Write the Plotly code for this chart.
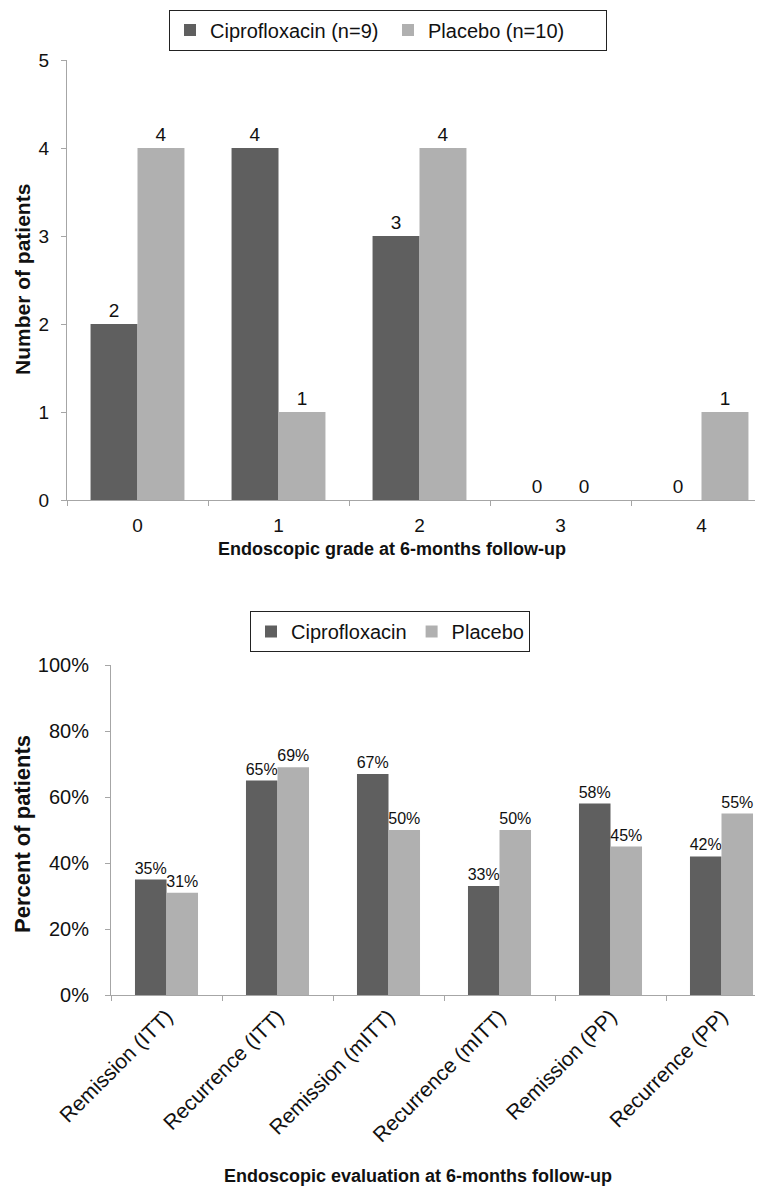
import plotly.graph_objects as go

W, H = 763, 1193
OFF = 8  # page body margin offset

# Top chart data
grades = ["0", "1", "2", "3", "4"]
cipro_counts = [2, 4, 3, 0, 0]
placebo_counts = [4, 1, 4, 0, 1]

# Bottom chart data
outcomes = ["Remission (ITT)", "Recurrence (ITT)", "Remission (mITT)",
            "Recurrence (mITT)", "Remission (PP)", "Recurrence (PP)"]
cipro_pct = [35, 65, 67, 33, 58, 42]
placebo_pct = [31, 69, 50, 50, 45, 55]

DARK = "#5f5f5f"
LIGHT = "#b0b0b0"
FONT = "Liberation Sans, Arial, sans-serif"
AXIS = "#a6a6a6"

ML, MR, MT, MB = 67 - OFF, 0, 60 - OFF, H - (995 - OFF)
PW = W - ML - MR
PH = H - MT - MB

def px_x(p):
    return (p - OFF - ML) / PW

def px_y(p):
    return (H - MB - (p - OFF)) / PH

fig = go.Figure()

wt = 0.333
fig.add_trace(go.Bar(x=grades, y=cipro_counts, name="Ciprofloxacin (n=9)",
                     marker=dict(color=DARK, line=dict(width=0)),
                     width=wt, offset=-wt, text=[str(v) for v in cipro_counts],
                     texttemplate="%{text}", textposition="outside", constraintext="none",
                     textfont=dict(size=19, color="#111"), cliponaxis=False,
                     xaxis="x", yaxis="y", legend="legend"))
fig.add_trace(go.Bar(x=grades, y=placebo_counts, name="Placebo (n=10)",
                     marker=dict(color=LIGHT, line=dict(width=0)),
                     width=wt, offset=0, text=[str(v) for v in placebo_counts],
                     texttemplate="%{text}", textposition="outside", constraintext="none",
                     textfont=dict(size=19, color="#111"), cliponaxis=False,
                     xaxis="x", yaxis="y", legend="legend"))

wb = 0.284
fig.add_trace(go.Bar(x=outcomes, y=cipro_pct, name="Ciprofloxacin",
                     marker=dict(color=DARK, line=dict(width=0)),
                     width=wb, offset=-wb, text=[f"{v}%" for v in cipro_pct],
                     texttemplate="%{text}", textposition="outside", constraintext="none",
                     textfont=dict(size=16, color="#111"), cliponaxis=False,
                     xaxis="x2", yaxis="y2", legend="legend2"))
fig.add_trace(go.Bar(x=outcomes, y=placebo_pct, name="Placebo",
                     marker=dict(color=LIGHT, line=dict(width=0)),
                     width=wb, offset=0, text=[f"{v}%" for v in placebo_pct],
                     texttemplate="%{text}", textposition="outside", constraintext="none",
                     textfont=dict(size=16, color="#111"), cliponaxis=False,
                     xaxis="x2", yaxis="y2", legend="legend2"))

def ax(size, **kw):
    d = dict(showgrid=False, zeroline=False, showline=True, linecolor=AXIS,
             linewidth=1, ticks="outside", ticklen=5, tickcolor=AXIS,
             automargin=False, tickfont=dict(family=FONT, size=size, color="#111"))
    d.update(kw)
    return d

# plot right edge on screen = W + OFF
top_cat_px = 141.0
bot_cat_px = 111.0
top_hi = -0.5 + (W + OFF - 67) / top_cat_px
bot_hi = -0.5 + (W + OFF - 111) / bot_cat_px

fig.update_layout(
    width=W, height=H,
    margin=dict(l=ML, r=MR, t=MT, b=MB, autoexpand=False),
    paper_bgcolor="white", plot_bgcolor="white",
    font=dict(family=FONT, color="#111"),
    xaxis=ax(19, domain=[0, 1], anchor="y", type="category",
             range=[-0.5, top_hi], tickson="boundaries", ticklabelstandoff=8),
    yaxis=ax(19, domain=[px_y(500), px_y(60)], anchor="x", range=[0, 5], dtick=1,
             ticklabelstandoff=8),
    xaxis2=ax(21, domain=[px_x(111), 1], anchor="y2", type="category",
              range=[-0.5, bot_hi], tickson="boundaries", tickangle=-45),
    yaxis2=ax(20, domain=[px_y(995), px_y(665)], anchor="x2", range=[0, 100], dtick=20,
              ticksuffix="%", ticklabelstandoff=12),
    legend=dict(x=px_x(388), y=px_y(9.5), xanchor="center", yanchor="top",
                orientation="h", bordercolor="#222", borderwidth=1,
                font=dict(family=FONT, size=20, color="#111"), itemwidth=30,
                entrywidth=173, entrywidthmode="pixels"),
    legend2=dict(x=px_x(390), y=px_y(611), xanchor="center", yanchor="top",
                 orientation="h", bordercolor="#222", borderwidth=1,
                 font=dict(family=FONT, size=20, color="#111"), itemwidth=30),
    showlegend=True,
    annotations=[
        dict(text="<b>Number of patients</b>", x=px_x(22), y=px_y(280),
             xref="paper", yref="paper", textangle=-90, showarrow=False,
             xanchor="center", yanchor="middle",
             font=dict(family=FONT, size=21, color="#111")),
        dict(text="<b>Endoscopic grade at 6-months follow-up</b>", x=px_x(392), y=px_y(549),
             xref="paper", yref="paper", showarrow=False,
             xanchor="center", yanchor="middle",
             font=dict(family=FONT, size=18, color="#111")),
        dict(text="<b>Percent of patients</b>", x=px_x(22), y=px_y(834),
             xref="paper", yref="paper", textangle=-90, showarrow=False,
             xanchor="center", yanchor="middle",
             font=dict(family=FONT, size=22, color="#111")),
        dict(text="<b>Endoscopic evaluation at 6-months follow-up</b>", x=px_x(418), y=px_y(1176),
             xref="paper", yref="paper", showarrow=False,
             xanchor="center", yanchor="middle",
             font=dict(family=FONT, size=18, color="#111")),
    ],
)

fig.write_html("out.html")
